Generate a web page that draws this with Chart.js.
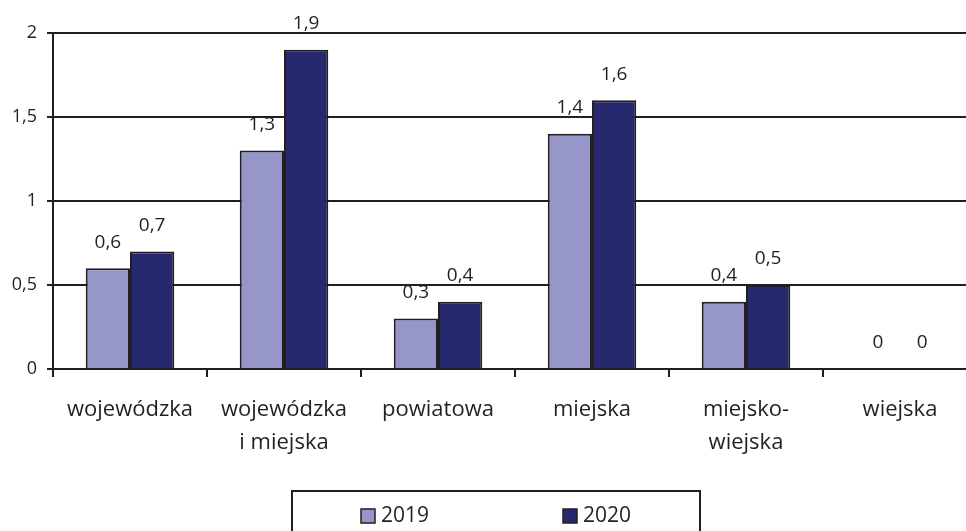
<!DOCTYPE html>
<html>
<head>
<meta charset="utf-8">
<script src="https://cdn.jsdelivr.net/npm/chart.js@4"></script>
<style>
  html, body { margin: 0; padding: 0; background: #fff; overflow: hidden; }
  #wrap { width: 990px; height: 531px; }
</style>
</head>
<body>
<div id="wrap"><canvas id="chart" width="990" height="531"></canvas></div>
<script>
// data
const categories = [
  "wojewódzka",
  ["wojewódzka", "i miejska"],
  "powiatowa",
  "miejska",
  ["miejsko-", "wiejska"],
  "wiejska"
];
const values2019 = [0.6, 1.3, 0.3, 1.4, 0.4, 0];
const values2020 = [0.7, 1.9, 0.4, 1.6, 0.5, 0];
const yTicks = [0, 0.5, 1, 1.5, 2];

const FONT = "'Open Sans', sans-serif";
const INK = "#231F20";
const fmt = v => String(v).replace(".", ",");

// value labels above the bars
const valueLabels = {
  id: "valueLabels",
  afterDatasetsDraw(chart) {
    const ctx = chart.ctx;
    ctx.save();
    ctx.font = "19px " + FONT;
    ctx.fillStyle = INK;
    ctx.textAlign = "center";
    ctx.textBaseline = "middle";
    chart.data.datasets.forEach((ds, i) => {
      chart.getDatasetMeta(i).data.forEach((bar, j) => {
        ctx.fillText(fmt(ds.data[j]), bar.x, bar.y - 26);
      });
    });
    ctx.restore();
  }
};

// boxed legend at the bottom
const boxLegend = {
  id: "boxLegend",
  afterDraw(chart) {
    const ctx = chart.ctx;
    ctx.save();
    ctx.strokeStyle = INK;
    ctx.lineWidth = 2;
    ctx.strokeRect(292, 491, 408, 60);
    ctx.font = "21px " + FONT;
    ctx.textBaseline = "middle";
    const xs = [361, 563];
    chart.data.datasets.forEach((ds, i) => {
      ctx.fillStyle = ds.backgroundColor;
      ctx.fillRect(xs[i], 509, 14, 14);
      ctx.lineWidth = 1.5;
      ctx.strokeRect(xs[i], 509, 14, 14);
      ctx.fillStyle = INK;
      ctx.fillText(ds.label, xs[i] + 20, 516);
    });
    ctx.restore();
  }
};

new Chart(document.getElementById("chart"), {
  type: "bar",
  data: {
    labels: categories,
    datasets: [
      { label: "2019", data: values2019, backgroundColor: "#9696C8", borderColor: INK, borderWidth: 2 },
      { label: "2020", data: values2020, backgroundColor: "#26296E", borderColor: INK, borderWidth: 2 }
    ]
  },
  options: {
    responsive: false,
    animation: false,
    layout: { padding: { top: 33, right: 13, left: 0, bottom: 0 } },
    datasets: { bar: { categoryPercentage: 0.575, barPercentage: 1 } },
    plugins: { legend: { display: false }, tooltip: { enabled: false } },
    scales: {
      x: {
        afterFit: s => { s.height = 162; },
        grid: { offset: true, drawOnChartArea: false, color: INK, lineWidth: 2, tickLength: 8 },
        border: { display: false },
        ticks: { font: { family: FONT, size: 22, lineHeight: 1.5 }, color: INK, padding: 16, maxRotation: 0, autoSkip: false }
      },
      y: {
        min: 0,
        max: 2,
        afterFit: s => { s.width = 53; },
        afterBuildTicks: s => { s.ticks = yTicks.map(v => ({ value: v })); },
        grid: { color: INK, lineWidth: 2, tickLength: 6 },
        border: { display: true, color: INK, width: 2 },
        ticks: { font: { family: FONT, size: 18 }, color: INK, padding: 10, callback: v => fmt(v) }
      }
    }
  },
  plugins: [valueLabels, boxLegend]
});
</script>
</body>
</html>
